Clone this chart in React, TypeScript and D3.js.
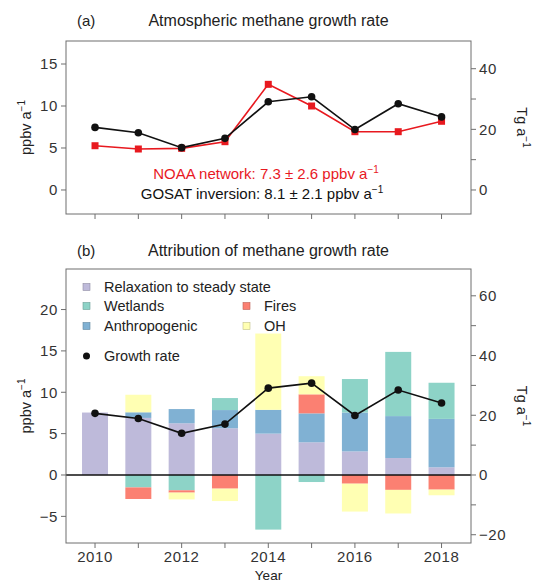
import React from "react";
import * as d3 from "d3";

const years = [2010, 2011, 2012, 2013, 2014, 2015, 2016, 2017, 2018];
const noaa = [5.27, 4.88, 4.96, 5.75, 12.58, 10.0, 6.94, 6.94, 8.18];
const gosat = [7.45, 6.82, 5.04, 6.15, 10.5, 11.1, 7.2, 10.27, 8.7];

const relaxation = [7.55, 6.9, 6.25, 5.65, 5.0, 3.95, 2.85, 2.05, 0.93];
const anthropogenic = [0, 0.68, 1.72, 2.2, 2.88, 3.5, 4.7, 5.07, 5.85];
const wetlands = [0, -1.5, -1.85, 1.45, -6.6, -0.85, 4.05, 7.76, 4.37];
const fires = [0, -1.4, -0.28, -1.65, 0, 2.3, -1.05, -1.8, -1.77];
const oh = [0, 2.12, -0.82, -1.5, 9.22, 2.19, -3.37, -2.85, -0.68];

const seriesKeys = ["relaxation", "anthropogenic", "wetlands", "fires", "oh"];
const seriesColors: Record<string, string> = {
  relaxation: "#bebada",
  anthropogenic: "#80b1d3",
  wetlands: "#8dd3c7",
  fires: "#fb8072",
  oh: "#ffffb3",
};

const xTicksA = years;
const xLabelsB = [2010, 2012, 2014, 2016, 2018];
const yTicksA = [0, 5, 10, 15];
const yRightTicksA = [0, 10, 20, 30, 40];
const yTicksB = [-5, 0, 5, 10, 15, 20];
const yRightTicksB = [-20, -10, 0, 10, 20, 30, 40, 50, 60];
const tgPerPpb = 2.77;

const FONT = "'Liberation Sans', Arial, Helvetica, sans-serif";
const FRAME = "#6e6e6e";
const TXT = "#333";

export default function App() {
  const left = 66, right = 471;
  const x = d3.scaleLinear().domain([2009.33, 2018.68]).range([left, right]);

  const aTop = 41, aBot = 214;
  const yA = d3.scaleLinear().domain([-2.86, 17.74]).range([aBot, aTop]);
  const yAr = d3.scaleLinear().domain(yA.domain().map((v) => v * tgPerPpb)).range([aBot, aTop]);

  const bTop = 269, bBot = 543;
  const yB = d3.scaleLinear().domain([-8.22, 24.9]).range([bBot, bTop]);
  const yBr = d3.scaleLinear().domain(yB.domain().map((v) => v * tgPerPpb)).range([bBot, bTop]);

  const rows = years.map((yr, i) => ({
    year: yr,
    relaxation: relaxation[i],
    anthropogenic: anthropogenic[i],
    wetlands: wetlands[i],
    fires: fires[i],
    oh: oh[i],
  }));
  const stacked = d3.stack<any>().keys(seriesKeys).offset(d3.stackOffsetDiverging)(rows);
  const barW = (x(2011) - x(2010)) * 0.6;

  const lineA = d3.line<number>().x((_, i) => x(years[i])).y((d) => yA(d));
  const lineB = d3.line<number>().x((_, i) => x(years[i])).y((d) => yB(d));

  const tickLen = 5;
  const fs = 14.5;
  const tfs = 15;
  const tls = 0.6;

  const leftAxis = (scale: any, ticks: number[]) =>
    ticks.map((t) => (
      <g key={"l" + t}>
        <line x1={left - tickLen} x2={left} y1={scale(t)} y2={scale(t)} stroke={FRAME} />
        <text x={left - tickLen - 3} y={scale(t)} dy="0.36em" textAnchor="end" fontSize={tfs} letterSpacing={tls} fill={TXT}>
          {t < 0 ? "\u2212" + Math.abs(t) : t}
        </text>
      </g>
    ));
  const rightAxis = (scale: any, ticks: number[]) =>
    ticks.map((t) => (
      <g key={"r" + t}>
        <line x1={right} x2={right + tickLen} y1={scale(t)} y2={scale(t)} stroke={FRAME} />
        {t % 20 === 0 ? (
          <text x={right + tickLen + 3} y={scale(t)} dy="0.36em" textAnchor="start" fontSize={tfs} letterSpacing={tls} fill={TXT}>
            {t < 0 ? "\u2212" + Math.abs(t) : t}
          </text>
        ) : null}
      </g>
    ));

  const legendItems = [
    { key: "relaxation", label: "Relaxation to steady state", x: 83, y: 287 },
    { key: "wetlands", label: "Wetlands", x: 83, y: 306 },
    { key: "anthropogenic", label: "Anthropogenic", x: 83, y: 326 },
    { key: "fires", label: "Fires", x: 243, y: 306 },
    { key: "oh", label: "OH", x: 243, y: 326 },
  ];
  const strokeFor = (k: string) => d3.color(seriesColors[k])!.darker(0.8).formatHex();

  const unitLabel = (txt: string) => (
    <>
      {txt}
      <tspan dy="-6" fontSize={10}>{"\u22121"}</tspan>
    </>
  );

  return (
    <svg
      width={544}
      height={583}
      style={{ position: "absolute", left: 0, top: 0, background: "#fff" }}
      fontFamily={FONT}
    >
      <rect width={544} height={583} fill="#fff" />
      {/* Panel (a) */}
      <text x={77} y={26} fontSize={15} fill="#222">(a)</text>
      <text x={(left + right) / 2} y={26} fontSize={16} fill="#222" textAnchor="middle">
        Atmospheric methane growth rate
      </text>
      <rect x={left} y={aTop} width={right - left} height={aBot - aTop} fill="none" stroke={FRAME} />
      {leftAxis(yA, yTicksA)}
      {rightAxis(yAr, yRightTicksA)}
      {xTicksA.map((t) => (
        <line key={"xa" + t} x1={x(t)} x2={x(t)} y1={aBot} y2={aBot + tickLen} stroke={FRAME} />
      ))}
      <text transform={`translate(31,${(aTop + aBot) / 2}) rotate(-90)`} textAnchor="middle" fontSize={fs} fill="#222">
        {unitLabel("ppbv a")}
      </text>
      <text transform={`translate(517,${(aTop + aBot) / 2}) rotate(90)`} textAnchor="middle" fontSize={fs} fill="#222">
        {unitLabel("Tg a")}
      </text>
      <path d={lineA(noaa)!} fill="none" stroke="#e8191f" strokeWidth={1.6} />
      {noaa.map((v, i) => (
        <rect key={"n" + i} x={x(years[i]) - 3.5} y={yA(v) - 3.5} width={7} height={7} fill="#e8191f" />
      ))}
      <path d={lineA(gosat)!} fill="none" stroke="#111" strokeWidth={1.6} />
      {gosat.map((v, i) => (
        <circle key={"g" + i} cx={x(years[i])} cy={yA(v)} r={3.8} fill="#111" />
      ))}
      <text x={266} y={179} textAnchor="middle" fontSize={15} fill="#e8191f">
        NOAA network: 7.3 ± 2.6 ppbv a<tspan dy="-6" fontSize={10}>{"\u22121"}</tspan>
      </text>
      <text x={262} y={199} textAnchor="middle" fontSize={15} fill="#111">
        GOSAT inversion: 8.1 ± 2.1 ppbv a<tspan dy="-6" fontSize={10}>{"\u22121"}</tspan>
      </text>

      {/* Panel (b) */}
      <text x={77} y={256} fontSize={15} fill="#222">(b)</text>
      <text x={(left + right) / 2} y={256} fontSize={16} fill="#222" textAnchor="middle">
        Attribution of methane growth rate
      </text>
      {stacked.map((s) => (
        <g key={s.key} fill={seriesColors[s.key]}>
          {s.map((d, i) =>
            d[1] - d[0] === 0 ? null : (
              <rect
                key={i}
                x={x(years[i]) - barW / 2}
                y={yB(Math.max(d[0], d[1]))}
                width={barW}
                height={Math.abs(yB(d[0]) - yB(d[1]))}
              />
            )
          )}
        </g>
      ))}
      <line x1={left} x2={right} y1={yB(0)} y2={yB(0)} stroke="#111" strokeWidth={1.5} />
      <path d={lineB(gosat)!} fill="none" stroke="#111" strokeWidth={1.6} />
      {gosat.map((v, i) => (
        <circle key={"gb" + i} cx={x(years[i])} cy={yB(v)} r={3.8} fill="#111" />
      ))}
      <rect x={left} y={bTop} width={right - left} height={bBot - bTop} fill="none" stroke={FRAME} />
      {leftAxis(yB, yTicksB)}
      {rightAxis(yBr, yRightTicksB)}
      {years.map((t) => (
        <line key={"xb" + t} x1={x(t)} x2={x(t)} y1={bBot} y2={bBot + tickLen} stroke={FRAME} />
      ))}
      {xLabelsB.map((t) => (
        <text key={"xl" + t} x={x(t)} y={562} textAnchor="middle" fontSize={tfs} letterSpacing={tls} fill={TXT}>
          {t}
        </text>
      ))}
      <text x={(left + right) / 2} y={580} textAnchor="middle" fontSize={13.5} fill="#222">Year</text>
      <text transform={`translate(31,${(bTop + bBot) / 2}) rotate(-90)`} textAnchor="middle" fontSize={fs} fill="#222">
        {unitLabel("ppbv a")}
      </text>
      <text transform={`translate(517,${(bTop + bBot) / 2}) rotate(90)`} textAnchor="middle" fontSize={fs} fill="#222">
        {unitLabel("Tg a")}
      </text>

      {/* Legend */}
      {legendItems.map((it) => (
        <g key={it.key}>
          <rect x={it.x} y={it.y - 3.5} width={7} height={7} fill={seriesColors[it.key]} stroke={strokeFor(it.key)} strokeWidth={0.6} />
          <text x={it.x + 21} y={it.y} dy="0.36em" fontSize={fs} fill="#222">{it.label}</text>
        </g>
      ))}
      <circle cx={86.5} cy={356} r={3.5} fill="#111" />
      <text x={104} y={356} dy="0.36em" fontSize={fs} fill="#222">Growth rate</text>
    </svg>
  );
}
